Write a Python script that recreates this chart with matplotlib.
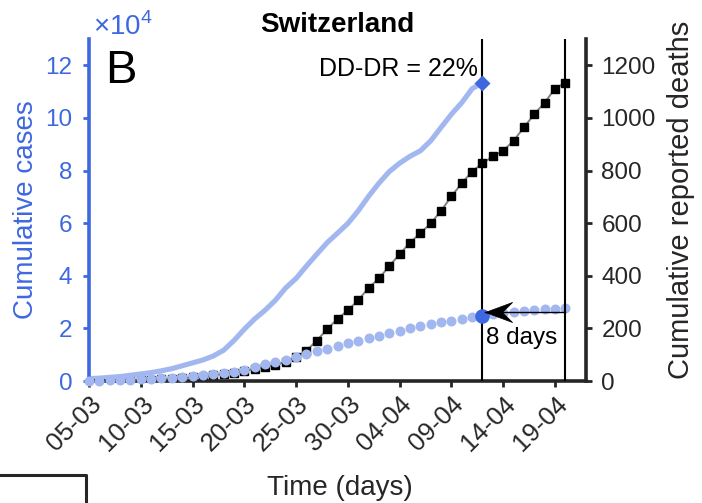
import matplotlib.pyplot as plt
import numpy as np
from matplotlib.path import Path
from matplotlib.lines import Line2D
from matplotlib.ticker import FuncFormatter, MultipleLocator
from matplotlib.transforms import ScaledTranslation

plt.rcParams['font.family'] = ['Liberation Sans', 'DejaVu Sans']
plt.rcParams['mathtext.fontset'] = 'custom'
plt.rcParams['mathtext.rm'] = 'Liberation Sans'

# daily values, 05-03 .. 20-04
cases = [100, 150, 250, 350, 450, 600, 800, 1000, 1300, 1550,
         2000, 2300, 2700, 2950, 3300, 4200, 5200, 6400, 7100, 8000,
         9300, 10400, 11300, 12200, 13400, 14400, 15400, 16300, 17300, 18200,
         19200, 20100, 21100, 21800, 22400, 22900, 23700, 24200, 24900, 25500,
         25900, 26300, 26600, 26900, 27200, 27500, 27800]
deaths = [1, 1, 2, 2, 3, 4, 5, 6, 9, 11, 14, 17, 22, 27, 32, 39, 46, 53, 62, 72,
          92, 115, 154, 197, 236, 269, 307, 354, 390, 437, 482, 526, 562, 599,
          647, 702, 752, 796, 828, 854, 875, 913, 964, 1014, 1058, 1111, 1134]
# reported deaths brought back by the delay, on the case scale
dd_curve = [900, 1100, 1400, 1700, 2200, 2700, 3200, 3900, 4700, 5800,
            6900, 8000, 9500, 11700, 15400, 19700, 23600, 26900, 30700, 35400,
            39000, 43700, 48200, 52600, 56200, 59900, 64700, 70200, 75200, 79600,
            82800, 85400, 87500, 91300, 96400, 101400, 105800, 111100, 113400]
tick_labels = ['05-03', '10-03', '15-03', '20-03', '25-03', '30-03',
               '04-04', '09-04', '14-04', '19-04']
delay_days = 8
dd_dr_text = 'DD-DR = 22%'

BLUE = '#3E68E0'
LIGHT = '#A2B7F0'
DARK = '#262626'

fig = plt.figure(figsize=(7.02, 5.03), dpi=100)
ax = fig.add_axes([0.1268, 0.2425, 0.7080, 0.6800])
ax2 = ax.twinx()
ax.set_zorder(ax2.get_zorder() + 1)
ax.patch.set_visible(False)

days = np.arange(len(cases))
t_end = days[-1]
t_ref = t_end - delay_days

# deaths on the right axis
ax2.plot(days, deaths, color='#7f7f7f', lw=1.4, marker='s', ms=5.2,
         mfc='k', mec='k', zorder=2)

# cases on the left axis
ax.plot(days[:len(dd_curve)], dd_curve, color=LIGHT, lw=3.7,
        solid_capstyle='round', zorder=2)
ax.plot(days, cases, 'o', ms=7.2, color=LIGHT, mec='none', zorder=3,
        clip_on=False)
ax.plot(t_ref, cases[t_ref], 'o', ms=10.5, color=BLUE, mec='none', zorder=6)
ax.plot(t_ref, dd_curve[-1], 'D', ms=8.5, color=BLUE, mec='none', zorder=6)

ax.axvline(t_ref, color='k', lw=1.5, zorder=4)
ax.axvline(t_end, color='k', lw=1.5, zorder=4)

# delay arrow with a notched head
head = Path([(0, 0), (27, 10), (17, 0), (27, -10), (0, 0)],
            [Path.MOVETO, Path.LINETO, Path.LINETO, Path.LINETO, Path.CLOSEPOLY])
arrow_y = 26100
ax.plot([t_end, t_ref + 0.2], [arrow_y, arrow_y], color='k', lw=1, zorder=7)
ax.plot(t_ref + 0.2, arrow_y, marker=head, ms=39, color='k', mec='k',
        mew=0.5, zorder=7)
ax.text(t_ref + 0.35, 14100, f'{delay_days} days', ha='left', va='baseline',
        fontsize=17.5, color='k', zorder=8)
ax.text(t_ref - 0.45, 115800, dd_dr_text, ha='right', va='baseline',
        fontsize=18, color='k')
ax.text(0.032, 0.871, 'B', transform=ax.transAxes, fontsize=34,
        va='baseline', ha='left')

ax.set_xlim(0, 48)
ax.set_ylim(0, 13e4)
ax2.set_ylim(0, 1300)

ax.set_xticks(days[::5])
ax.set_xticklabels(tick_labels, rotation=45, ha='right',
                   rotation_mode='anchor')
shift = ScaledTranslation(0.14, -0.02, fig.dpi_scale_trans)
for lab in ax.get_xticklabels():
    lab.set_transform(lab.get_transform() + shift)
ax.yaxis.set_major_locator(MultipleLocator(2e4))
ax.yaxis.set_major_formatter(FuncFormatter(lambda v, p: f'{v / 1e4:g}'))
ax2.yaxis.set_major_locator(MultipleLocator(200))
ax.set_ylim(0, 13e4)
ax2.set_ylim(0, 1300)

for s in ['top', 'right']:
    ax.spines[s].set_visible(False)
for s in ['top', 'left', 'bottom']:
    ax2.spines[s].set_visible(False)
ax.spines['left'].set_color(BLUE)
ax.spines['left'].set_linewidth(2.6)
ax.spines['bottom'].set_color(DARK)
ax.spines['bottom'].set_linewidth(2.6)
ax2.spines['right'].set_color(DARK)
ax2.spines['right'].set_linewidth(2.6)

ax.tick_params(axis='y', colors=BLUE, labelsize=17.5, length=4, width=2, pad=8)
ax.tick_params(axis='x', colors=DARK, labelsize=18.5, length=4, width=2, pad=4)
ax2.tick_params(axis='y', colors=DARK, labelsize=17.5, length=4, width=2, pad=7)

ax.set_title('Switzerland', fontsize=20, fontweight='bold', pad=5)
ax.set_ylabel('Cumulative cases', fontsize=20, color=BLUE)
ax.yaxis.set_label_coords(-0.10, 0.5)
ax2.set_ylabel('Cumulative reported deaths', fontsize=21, color=DARK)
ax2.yaxis.set_label_coords(1.163, 0.529)
ax.set_xlabel('Time (days)', fontsize=20, color=DARK)
ax.xaxis.set_label_coords(0.505, -0.275)
ax.xaxis.label.set_va('top')

fig.text(93 / 702, 1 - 35 / 503, r'$\times10^{4}$', color=BLUE, fontsize=20,
         va='baseline', ha='left')

# corner of the neighbouring panel frame
fig.add_artist(Line2D([0, 0.1225, 0.1225], [0.0557, 0.0557, 0],
                      transform=fig.transFigure, color=DARK, lw=2.2))

fig.savefig('out.png', dpi=100)
